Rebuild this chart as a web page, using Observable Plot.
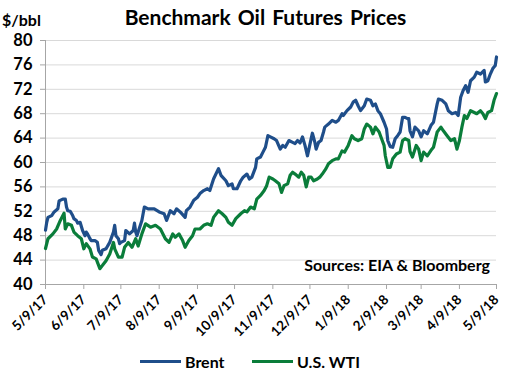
<!DOCTYPE html>
<html>
<head>
<meta charset="utf-8">
<script src="https://cdn.jsdelivr.net/npm/d3@7"></script>
<script src="https://cdn.jsdelivr.net/npm/@observablehq/plot@0.6"></script>
<style>
  body { margin: 0; background: #fff; font-family: Lato, "Open Sans", sans-serif; }
  #wrap { position: relative; width: 523px; height: 374px; overflow: hidden; background: #fff; }
  #chart { position: absolute; left: 0; top: 0; }
  .txt { position: absolute; font-weight: bold; color: #000; white-space: nowrap; line-height: 1; }
  #title { left: 4px; width: 523px; top: 6px; text-align: center; font-size: 21px; word-spacing: 2px; }
  #unit { left: 2px; top: 12px; font-size: 16px; }
  #source { right: 33px; top: 257px; font-size: 16px; }
  #legend { position: absolute; top: 352px; left: 0; width: 523px; height: 18px; }
  .key { position: absolute; top: 0; display: flex; align-items: center; font-weight: bold; font-size: 16px; }
  .sw { display: inline-block; width: 41px; height: 3.5px; margin-right: 4px; }
</style>
</head>
<body>
<div id="wrap">
  <div id="chart"></div>
  <div id="title" class="txt">Benchmark Oil Futures Prices</div>
  <div id="unit" class="txt">$/bbl</div>
  <div id="source" class="txt">Sources: EIA &amp; Bloomberg</div>
  <div id="legend"></div>
</div>
<script>
// ---- Data ----
const seriesNames = ["Brent", "U.S. WTI"];
const seriesColors = ["#1F4E8A", "#0A7D3A"];

const brentDates = [
"2017-05-09","2017-05-10","2017-05-11","2017-05-14","2017-05-16","2017-05-19","2017-05-20","2017-05-23","2017-05-25","2017-05-26",
"2017-05-27","2017-05-29","2017-05-31","2017-06-01","2017-06-03","2017-06-04","2017-06-06","2017-06-08","2017-06-10","2017-06-11",
"2017-06-12","2017-06-14","2017-06-15","2017-06-18","2017-06-20","2017-06-21","2017-06-23","2017-06-24","2017-06-27","2017-06-30",
"2017-07-03","2017-07-04","2017-07-05","2017-07-07","2017-07-08","2017-07-09","2017-07-12","2017-07-13","2017-07-16","2017-07-19",
"2017-07-20","2017-07-21","2017-07-22","2017-07-26","2017-07-28","2017-07-31","2017-08-05","2017-08-09","2017-08-13","2017-08-15",
"2017-08-18","2017-08-21","2017-08-23","2017-08-26","2017-08-30","2017-08-31","2017-09-03","2017-09-06","2017-09-09","2017-09-11",
"2017-09-14","2017-09-17","2017-09-19","2017-09-22","2017-09-26","2017-09-28","2017-10-02","2017-10-04","2017-10-07","2017-10-08",
"2017-10-11","2017-10-14","2017-10-16","2017-10-19","2017-10-21","2017-10-23","2017-10-26","2017-10-27","2017-10-30","2017-11-01",
"2017-11-03","2017-11-05","2017-11-07","2017-11-10","2017-11-12","2017-11-15","2017-11-17","2017-11-19","2017-11-22","2017-11-25",
"2017-11-27","2017-11-29","2017-12-01","2017-12-03","2017-12-05","2017-12-07","2017-12-10","2017-12-11","2017-12-13","2017-12-14",
"2017-12-16","2017-12-18","2017-12-20","2017-12-21","2017-12-24","2017-12-27","2017-12-30","2018-01-01","2018-01-04","2018-01-05",
"2018-01-08","2018-01-11","2018-01-13","2018-01-15","2018-01-17","2018-01-19","2018-01-22","2018-01-24","2018-01-27","2018-01-29",
"2018-01-31","2018-02-02","2018-02-04","2018-02-07","2018-02-09","2018-02-10","2018-02-12","2018-02-14","2018-02-16","2018-02-18",
"2018-02-20","2018-02-22","2018-02-24","2018-02-26","2018-02-27","2018-02-28","2018-03-02","2018-03-04","2018-03-07","2018-03-09",
"2018-03-11","2018-03-14","2018-03-17","2018-03-19","2018-03-22","2018-03-23","2018-03-26","2018-03-29","2018-03-31","2018-04-03",
"2018-04-06","2018-04-08","2018-04-10","2018-04-12","2018-04-14","2018-04-16","2018-04-18","2018-04-21","2018-04-23","2018-04-26",
"2018-04-29","2018-04-30","2018-05-02","2018-05-04","2018-05-06","2018-05-08","2018-05-09"];
const brentValues = [
48.9,50.2,51.0,51.3,51.9,52.4,53.7,54.0,54.0,52.7,
52.1,52.0,51.3,50.8,50.5,50.05,50.2,48.85,48.0,48.6,
48.3,47.5,47.2,47.2,46.9,45.6,44.9,45.6,45.85,46.9,
48.6,49.7,48.0,47.5,46.7,46.9,47.2,48.85,48.3,48.85,
50.05,48.6,48.0,50.5,52.7,52.4,52.4,51.9,51.6,50.5,
52.1,51.6,52.4,51.9,51.0,52.1,52.7,53.8,54.3,54.9,
55.4,55.7,55.4,57.3,59.0,57.9,57.0,56.2,56.5,55.7,
55.7,57.0,57.6,58.1,57.3,57.6,59.2,60.6,60.9,61.7,
62.5,64.4,64.2,63.9,63.6,62.2,62.8,62.5,63.6,63.3,
63.1,63.6,63.2,64.2,62.8,61.1,63.9,64.8,63.3,62.2,
63.3,63.6,65.0,65.8,66.3,66.9,66.6,66.9,68.0,67.7,
68.5,69.1,69.9,70.2,69.3,68.5,69.3,70.4,70.2,69.3,
69.6,68.5,68.0,66.6,65.5,63.6,62.6,62.5,63.9,64.4,
65.0,67.4,67.4,67.2,67.2,65.2,64.2,65.8,65.2,64.2,
65.2,64.7,66.1,66.6,69.6,70.4,70.2,69.6,68.5,68.0,
68.2,67.7,70.7,71.8,72.6,71.5,73.4,74.0,74.8,74.5,
75.1,73.2,73.4,74.5,75.4,75.9,77.3];

const wtiDates = [
"2017-05-09","2017-05-11","2017-05-15","2017-05-18","2017-05-21","2017-05-24","2017-05-25","2017-05-27","2017-05-30","2017-06-01",
"2017-06-04","2017-06-07","2017-06-09","2017-06-11","2017-06-14","2017-06-16","2017-06-19","2017-06-22","2017-06-24","2017-06-27",
"2017-06-30","2017-07-03","2017-07-04","2017-07-07","2017-07-10","2017-07-12","2017-07-15","2017-07-18","2017-07-21","2017-07-23",
"2017-07-26","2017-07-29","2017-08-02","2017-08-06","2017-08-10","2017-08-14","2017-08-17","2017-08-20","2017-08-22","2017-08-25",
"2017-08-28","2017-08-30","2017-09-02","2017-09-05","2017-09-07","2017-09-11","2017-09-14","2017-09-17","2017-09-20","2017-09-22",
"2017-09-26","2017-09-29","2017-10-02","2017-10-04","2017-10-07","2017-10-10","2017-10-14","2017-10-17","2017-10-19","2017-10-22",
"2017-10-25","2017-10-27","2017-10-30","2017-11-02","2017-11-04","2017-11-06","2017-11-09","2017-11-11","2017-11-14","2017-11-16",
"2017-11-18","2017-11-21","2017-11-23","2017-11-25","2017-11-27","2017-11-30","2017-12-02","2017-12-04","2017-12-06","2017-12-08",
"2017-12-10","2017-12-12","2017-12-15","2017-12-17","2017-12-19","2017-12-22","2017-12-24","2017-12-27","2017-12-30","2018-01-01",
"2018-01-04","2018-01-06","2018-01-09","2018-01-12","2018-01-14","2018-01-17","2018-01-20","2018-01-22","2018-01-24","2018-01-27",
"2018-01-29","2018-01-31","2018-02-03","2018-02-05","2018-02-07","2018-02-08","2018-02-10","2018-02-12","2018-02-14","2018-02-17",
"2018-02-20","2018-02-22","2018-02-24","2018-02-27","2018-02-28","2018-03-02","2018-03-05","2018-03-07","2018-03-09","2018-03-11",
"2018-03-14","2018-03-17","2018-03-19","2018-03-22","2018-03-25","2018-03-27","2018-03-30","2018-04-02","2018-04-05","2018-04-07",
"2018-04-09","2018-04-11","2018-04-13","2018-04-15","2018-04-18","2018-04-21","2018-04-23","2018-04-26","2018-04-28","2018-04-30",
"2018-05-02","2018-05-05","2018-05-07","2018-05-09"];
const wtiValues = [
45.9,47.5,48.3,49.1,50.5,51.7,49.1,49.95,49.7,48.6,
48.0,47.5,45.85,46.7,45.85,44.5,44.2,42.6,43.1,43.9,
45.0,46.9,45.85,44.5,44.5,46.1,46.9,46.1,47.5,46.3,
48.3,49.95,49.4,49.7,49.1,47.5,46.9,48.3,47.75,48.3,
47.2,46.1,47.2,48.0,49.1,49.1,49.7,49.95,49.7,51.0,
52.1,51.6,51.0,50.2,49.7,50.8,51.6,52.1,51.9,52.7,
52.4,54.0,54.6,55.4,56.2,57.6,57.3,57.0,56.5,55.1,
56.2,56.5,57.9,58.4,58.1,57.6,58.4,57.9,56.0,57.6,
57.6,57.0,57.3,57.6,58.1,59.0,59.8,60.3,60.6,60.6,
61.9,61.7,62.8,64.4,63.9,63.6,63.9,65.5,66.3,65.8,
64.7,65.8,65.0,63.9,62.8,61.1,59.2,59.2,60.6,61.4,
61.7,63.6,63.9,63.6,61.8,60.9,62.8,62.2,60.3,61.7,
61.1,62.0,62.5,65.0,65.8,65.2,64.4,63.6,63.9,62.2,
63.6,65.8,67.7,67.2,68.5,68.2,68.0,68.5,68.0,67.2,
68.2,68.5,70.2,71.3];

const xTickDates = ["2017-05-09","2017-06-09","2017-07-09","2017-08-09","2017-09-09","2017-10-09","2017-11-09",
                    "2017-12-09","2018-01-09","2018-02-09","2018-03-09","2018-04-09","2018-05-09"];
const xTickLabels = ["5/9/17","6/9/17","7/9/17","8/9/17","9/9/17","10/9/17","11/9/17",
                     "12/9/17","1/9/18","2/9/18","3/9/18","4/9/18","5/9/18"];
const yTicks = [40, 44, 48, 52, 56, 60, 64, 68, 72, 76, 80];

// ---- Build table ----
const rows = [];
brentDates.forEach((d, i) => rows.push({date: new Date(d), value: brentValues[i], series: seriesNames[0]}));
wtiDates.forEach((d, i) => rows.push({date: new Date(d), value: wtiValues[i], series: seriesNames[1]}));
const tickDates = xTickDates.map(d => new Date(d));
const labelOf = new Map(tickDates.map((d, i) => [+d, xTickLabels[i]]));

const chart = Plot.plot({
  width: 523,
  height: 345,
  marginLeft: 45,
  marginRight: 27,
  marginTop: 40,
  marginBottom: 61,
  style: {fontFamily: "Lato, 'Open Sans', sans-serif", background: "#fff", overflow: "visible"},
  x: {type: "utc", domain: [tickDates[0], tickDates[tickDates.length - 1]]},
  y: {domain: [40, 80]},
  color: {domain: seriesNames, range: seriesColors},
  marks: [
    Plot.gridY(yTicks, {stroke: "#d9d9d9", strokeOpacity: 1, strokeWidth: 1}),
    Plot.ruleX([tickDates[0]], {stroke: "#a6a6a6", strokeWidth: 1}),
    Plot.ruleY([40], {stroke: "#a6a6a6", strokeWidth: 1}),
    Plot.axisY(yTicks, {tickSize: 5, tickPadding: 8, stroke: "#a6a6a6", fill: "#000",
      fontSize: 16.5, fontWeight: "bold", label: null}),
    Plot.axisX(tickDates, {tickSize: 5, tickPadding: 8, tickRotate: -45, stroke: "#a6a6a6", fill: "#000",
      fontSize: 13.5, fontWeight: "bold", label: null, tickFormat: d => labelOf.get(+d)}),
    Plot.line(rows, {x: "date", y: "value", z: "series", stroke: "series", strokeWidth: 3.2,
      strokeLinejoin: "round", strokeLinecap: "round", curve: "linear"})
  ]
});
document.getElementById("chart").appendChild(chart);

// ---- Legend ----
const legend = document.getElementById("legend");
const keyLefts = [140, 252];
seriesNames.forEach((name, i) => {
  const k = document.createElement("div");
  k.className = "key";
  k.style.left = keyLefts[i] + "px";
  const sw = document.createElement("span");
  sw.className = "sw";
  sw.style.background = seriesColors[i];
  k.appendChild(sw);
  k.appendChild(document.createTextNode(name));
  legend.appendChild(k);
});
</script>
</body>
</html>
